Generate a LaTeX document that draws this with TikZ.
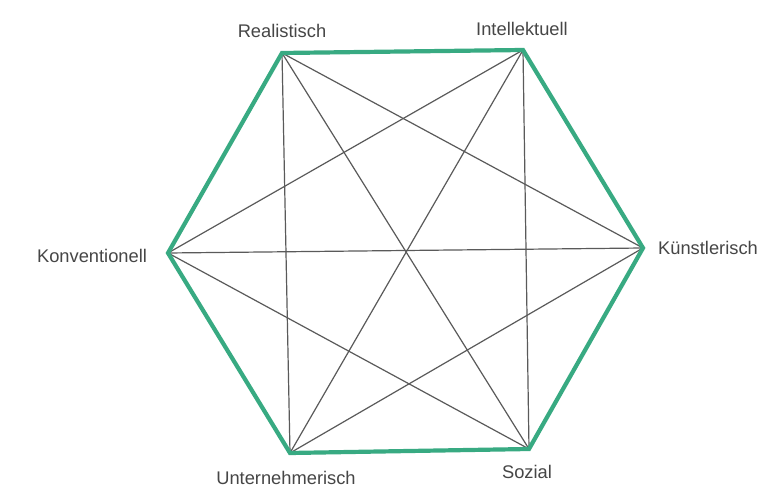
\documentclass[tikz,border=0pt]{standalone}
\usepackage{fontspec}
\setmainfont{Liberation Sans}
\definecolor{hexgreen}{RGB}{56,170,130}
\definecolor{labelgray}{RGB}{70,70,70}
\definecolor{linegray}{RGB}{90,90,90}
\begin{document}
\begin{tikzpicture}[x=1pt,y=-1pt,
  lbl/.style={text=labelgray,font=\fontsize{18.3}{22}\selectfont,inner sep=0pt},
  diag/.style={draw=linegray,line width=1.2pt},
  rim/.style={draw=hexgreen,line width=4.2pt,line join=miter}]
\useasboundingbox (0,0) rectangle (766,502);
\fill[white] (0,0) rectangle (766,502);
\coordinate (R) at (282,53);
\coordinate (I) at (523,50);
\coordinate (K) at (643,248);
\coordinate (S) at (529,449);
\coordinate (U) at (290,453);
\coordinate (C) at (168,253);
\foreach \a/\b in {R/K,R/S,R/U,I/S,I/U,I/C,K/U,K/C,S/C}
  \draw[diag] (\a) -- (\b);
\draw[rim] (R) -- (I) -- (K) -- (S) -- (U) -- (C) -- cycle;
\node[lbl] (lR) at (282,31) {Realistisch};
\node[lbl] (lI) at (522,29) {Intellektuell};
\node[lbl] (lK) at (708,248) {Künstlerisch};
\node[lbl] (lS) at (527,472) {Sozial};
\node[lbl] (lU) at (286,478) {Unternehmerisch};
\node[lbl] (lC) at (92,256) {Konventionell};
\end{tikzpicture}
\end{document}
